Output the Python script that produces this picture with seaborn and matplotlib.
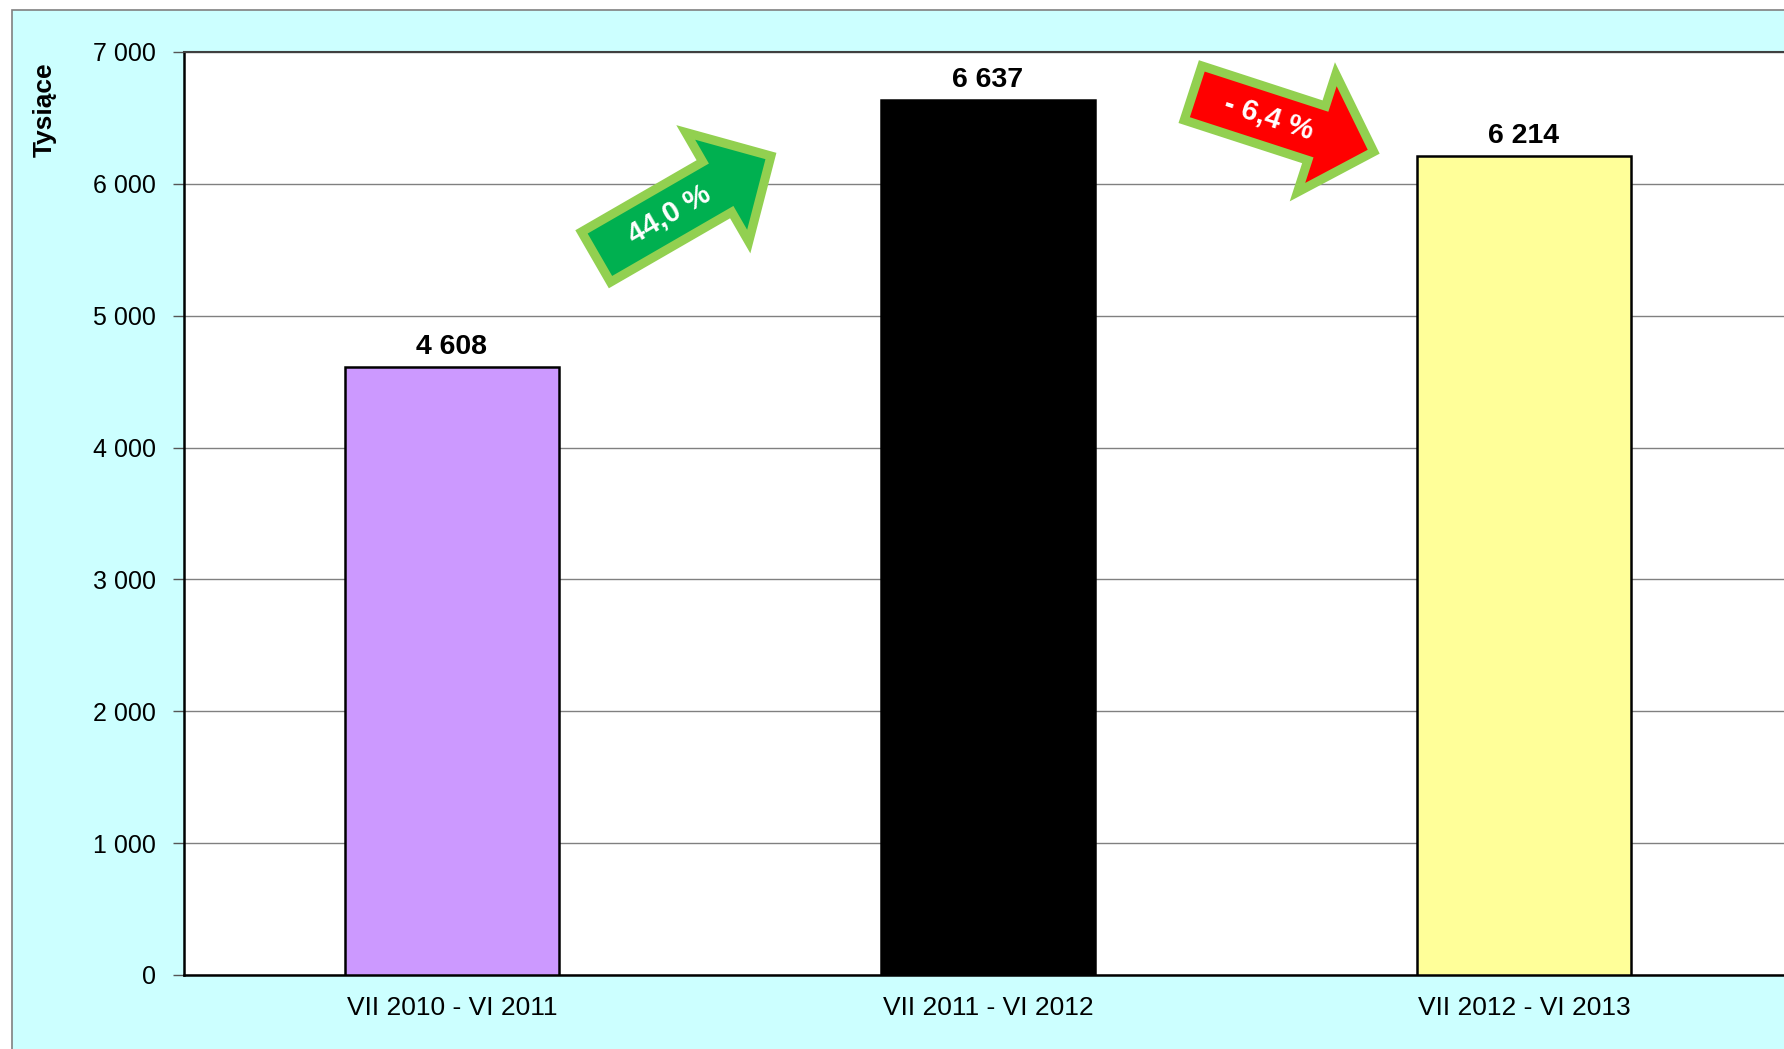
import numpy as np
import matplotlib
matplotlib.use("Agg")
import matplotlib.pyplot as plt
from matplotlib.patches import Polygon, Rectangle
import seaborn as sns

# data
periods = ["VII 2010 - VI 2011", "VII 2011 - VI 2012", "VII 2012 - VI 2013"]
values = [4608, 6637, 6214]
bar_colors = ["#CC99FF", "#000000", "#FFFF99"]
change_labels = ["44,0 %", "- 6,4 %"]
y_ticks = [0, 1000, 2000, 3000, 4000, 5000, 6000, 7000]

W, H = 1784, 1049

sns.set_style("white")
plt.rcParams['font.family'] = ['Liberation Sans', 'DejaVu Sans']
plt.rcParams['text.color'] = 'black'
plt.rcParams['xtick.color'] = 'black'
plt.rcParams['ytick.color'] = 'black'
plt.rcParams['xtick.labelcolor'] = 'black'
plt.rcParams['ytick.labelcolor'] = 'black'


def fmt(v):
    return f"{v:,.0f}".replace(",", " ")


fig = plt.figure(figsize=(W / 100, H / 100), dpi=100)
fig.patch.set_facecolor("white")

# cyan chart area with grey border
fig.patches.append(Rectangle((12 / W, -0.1), 1.1, 1.1 - 10 / H, transform=fig.transFigure,
                             facecolor="#CCFFFF", edgecolor="#808080", linewidth=1.2, zorder=-5))

ax = fig.add_axes([184 / W, 1 - 975 / H, (1792 - 184) / W, (975 - 52) / H])
ax.set_facecolor("white")

sns.barplot(x=periods, y=values, hue=periods, palette=bar_colors, width=0.4,
            saturation=1, edgecolor="black", linewidth=1.8, legend=False, ax=ax, zorder=3)

for cont, v in zip(ax.containers, values):
    ax.bar_label(cont, labels=[fmt(v)], padding=5, fontsize=20.5, fontweight="bold",
                 color="black")

ax.set_xlim(-0.5, 2.5)
ax.set_ylim(0, 7000)
ax.set_yticks(y_ticks)
ax.set_yticklabels([fmt(t) for t in y_ticks], fontsize=18)
ax.yaxis.grid(True, color="#808080", linewidth=1.0, zorder=0)
ax.set_axisbelow(True)

# category boundaries as ticks, labels at the centres
ax.set_xticks(np.arange(-0.5, 3.0, 1.0))
ax.set_xticklabels([])
ax.set_xticks(range(len(periods)), minor=True)
ax.set_xticklabels(periods, minor=True, fontsize=19)
ax.tick_params(axis="x", which="minor", length=0, pad=15)
ax.tick_params(axis="x", which="major", length=8, width=1, color="#555555", direction="out")
ax.tick_params(axis="y", length=8, width=1, color="#555555", direction="out", pad=12, left=True)
ax.set_xlabel("")
ax.set_ylabel("")

for s in ["left", "bottom"]:
    ax.spines[s].set_color("black")
    ax.spines[s].set_linewidth(1.8)
ax.spines["top"].set_color("#404040")
ax.spines["top"].set_linewidth(1.5)
ax.spines["right"].set_visible(False)

fig.text(45 / W, 1 - 110 / H, "Tysiące", rotation=90, ha="center", va="center",
         fontsize=19, fontweight="bold", color="black")


def arrow(tail, ang, length, w, hw, hl, fc, label):
    t = np.radians(ang)
    d = np.array([np.cos(t), -np.sin(t)])
    p = np.array([np.sin(t), np.cos(t)])
    local = [(0, w / 2), (length - hl, w / 2), (length - hl, hw / 2), (length, 0),
             (length - hl, -hw / 2), (length - hl, -w / 2), (0, -w / 2)]
    pts = [np.array(tail) + u * d + v * p for u, v in local]
    pts = [(x / W, 1 - y / H) for x, y in pts]
    fig.patches.append(Polygon(pts, closed=True, transform=fig.transFigure, facecolor=fc,
                               edgecolor="#92D050", linewidth=6.5, joinstyle="miter", zorder=5))
    c = np.array(tail) + 0.42 * length * d
    fig.text(c[0] / W, 1 - c[1] / H, label, rotation=ang, rotation_mode="anchor",
             ha="center", va="center", color="white", fontsize=21, fontweight="bold", zorder=6)


arrow((596, 257), 30, 202, 58, 126, 62, "#00B050", change_labels[0])
arrow((1193, 93), -18, 190, 57, 124, 60, "#FF0000", change_labels[1])

fig.savefig("out.png", dpi=100)
